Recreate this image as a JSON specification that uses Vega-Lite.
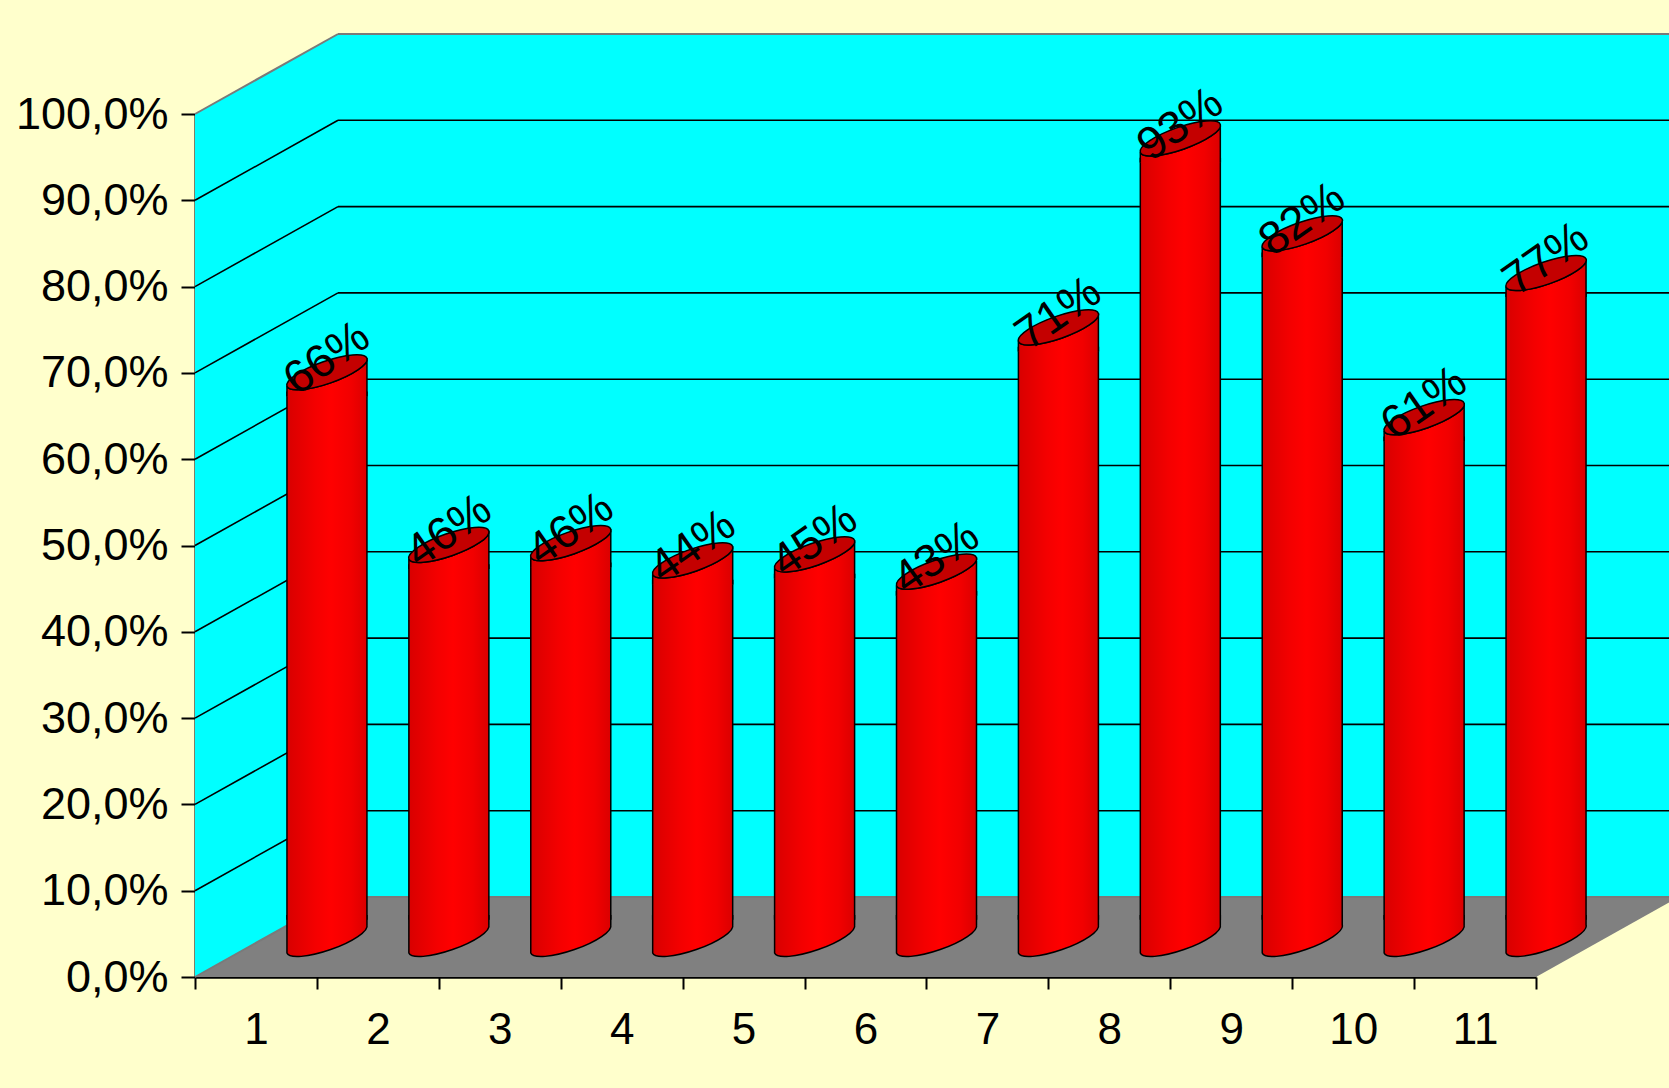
{
  "$schema": "https://vega.github.io/schema/vega-lite/v6.json",
  "width": 1341,
  "height": 863,
  "autosize": {"type": "none"},
  "padding": {"left": 195, "top": 114, "right": 133, "bottom": 111},
  "background": "#FFFFCC",
  "config": {"view": {"stroke": null}, "font": "Liberation Sans"},
  "datasets": {
    "bars": [
      {"group": "1", "share": 0.659},
      {"group": "2", "share": 0.459},
      {"group": "3", "share": 0.461},
      {"group": "4", "share": 0.441},
      {"group": "5", "share": 0.448},
      {"group": "6", "share": 0.428},
      {"group": "7", "share": 0.711},
      {"group": "8", "share": 0.93},
      {"group": "9", "share": 0.82},
      {"group": "10", "share": 0.607},
      {"group": "11", "share": 0.774}
    ],
    "frame": [
      {"part": "side", "i": 1, "edge": "L", "level": "bottom", "d": 0},
      {"part": "side", "i": 2, "edge": "L", "level": "top", "d": 0},
      {"part": "side", "i": 3, "edge": "L", "level": "top", "d": 1},
      {"part": "side", "i": 4, "edge": "L", "level": "bottom", "d": 1},
      {"part": "back", "i": 1, "edge": "L", "level": "bottom", "d": 1},
      {"part": "back", "i": 2, "edge": "L", "level": "top", "d": 1},
      {"part": "back", "i": 3, "edge": "R", "level": "top", "d": 1},
      {"part": "back", "i": 4, "edge": "R", "level": "bottom", "d": 1},
      {"part": "floor", "i": 1, "edge": "L", "level": "bottom", "d": 0},
      {"part": "floor", "i": 2, "edge": "R", "level": "bottom", "d": 0},
      {"part": "floor", "i": 3, "edge": "R", "level": "bottom", "d": 1},
      {"part": "floor", "i": 4, "edge": "L", "level": "bottom", "d": 1}
    ],
    "grid": [
      {"v": 0.1}, {"v": 0.2}, {"v": 0.3}, {"v": 0.4}, {"v": 0.5},
      {"v": 0.6}, {"v": 0.7}, {"v": 0.8}, {"v": 0.9}
    ],
    "edges": [{"v": 0}, {"v": 1}]
  },
  "resolve": {
    "scale": {"x": "independent", "y": "independent"},
    "axis": {"x": "independent", "y": "independent"}
  },
  "layer": [
    {
      "data": {"name": "frame"},
      "transform": [{"filter": "datum.part === 'side' || datum.part === 'back'"}],
      "mark": {"type": "line", "fill": "#00FFFF", "strokeWidth": 0},
      "encoding": {
        "x": {"field": "edge", "type": "nominal", "scale": {"type": "point", "domain": ["L", "R"], "padding": 0}, "axis": null},
        "y": {"field": "level", "type": "nominal", "scale": {"type": "point", "domain": ["top", "bottom"], "padding": 0}, "axis": null},
        "xOffset": {"field": "d", "type": "quantitative", "scale": {"domain": [0, 1], "range": [0, 143], "nice": false, "zero": false}},
        "yOffset": {"field": "d", "type": "quantitative", "scale": {"domain": [0, 1], "range": [0, -80], "nice": false, "zero": false}},
        "detail": {"field": "part"},
        "order": {"field": "i"}
      }
    },
    {
      "data": {"name": "frame"},
      "transform": [{"filter": "datum.part === 'floor'"}],
      "mark": {"type": "line", "fill": "#808080", "strokeWidth": 0},
      "encoding": {
        "x": {"field": "edge", "type": "nominal", "scale": {"type": "point", "domain": ["L", "R"], "padding": 0}, "axis": null},
        "y": {"field": "level", "type": "nominal", "scale": {"type": "point", "domain": ["top", "bottom"], "padding": 0}, "axis": null},
        "xOffset": {"field": "d", "type": "quantitative", "scale": {"domain": [0, 1], "range": [0, 143], "nice": false, "zero": false}},
        "yOffset": {"field": "d", "type": "quantitative", "scale": {"domain": [0, 1], "range": [0, -80], "nice": false, "zero": false}},
        "order": {"field": "i"}
      }
    },
    {
      "data": {"name": "grid"},
      "mark": {"type": "rule", "color": "black", "strokeWidth": 1.6, "xOffset": 143, "x2Offset": 143, "yOffset": -80},
      "encoding": {
        "x": {"datum": 0.5, "type": "quantitative", "scale": {"domain": [0.5, 11.5], "nice": false, "zero": false}, "axis": null},
        "x2": {"datum": 12.5},
        "y": {"field": "v", "type": "quantitative", "scale": {"domain": [0, 1], "nice": false}, "axis": null}
      }
    },
    {
      "data": {"name": "grid"},
      "mark": {"type": "rule", "color": "black", "strokeWidth": 1.6, "x2Offset": 143, "y2Offset": -80},
      "encoding": {
        "x": {"datum": 0.5, "type": "quantitative", "scale": {"domain": [0.5, 11.5], "nice": false, "zero": false}, "axis": null},
        "x2": {"datum": 0.5},
        "y": {"field": "v", "type": "quantitative", "scale": {"domain": [0, 1], "nice": false}, "axis": null},
        "y2": {"field": "v"}
      }
    },
    {
      "data": {"name": "edges"},
      "mark": {"type": "rule", "color": "#7A7A7A", "strokeWidth": 2, "xOffset": 143, "x2Offset": 143, "yOffset": -80},
      "encoding": {
        "x": {"datum": 0.5, "type": "quantitative", "scale": {"domain": [0.5, 11.5], "nice": false, "zero": false}, "axis": null},
        "x2": {"datum": 12.5},
        "y": {"field": "v", "type": "quantitative", "scale": {"domain": [0, 1], "nice": false}, "axis": null}
      }
    },
    {
      "data": {"name": "edges"},
      "mark": {"type": "rule", "color": "#7A7A7A", "strokeWidth": 2, "x2Offset": 143, "y2Offset": -80},
      "encoding": {
        "x": {"datum": 0.5, "type": "quantitative", "scale": {"domain": [0.5, 11.5], "nice": false, "zero": false}, "axis": null},
        "x2": {"datum": 0.5},
        "y": {"field": "v", "type": "quantitative", "scale": {"domain": [0, 1], "nice": false}, "axis": null},
        "y2": {"field": "v"}
      }
    },
    {
      "mark": {"type": "rule", "color": "#7A7A7A", "strokeWidth": 2, "xOffset": 143, "yOffset": -80, "y2Offset": -80},
      "encoding": {
        "x": {"datum": 0.5, "type": "quantitative", "scale": {"domain": [0.5, 11.5], "nice": false, "zero": false}, "axis": null},
        "y": {"datum": 0, "type": "quantitative", "scale": {"domain": [0, 1], "nice": false}, "axis": null},
        "y2": {"datum": 1}
      }
    },
    {
      "mark": {"type": "rule", "color": "black", "strokeWidth": 2, "x2Offset": 143, "y2Offset": -80},
      "encoding": {
        "x": {"datum": 11.5, "type": "quantitative", "scale": {"domain": [0.5, 11.5], "nice": false, "zero": false}, "axis": null},
        "x2": {"datum": 11.5},
        "y": {"datum": 0, "type": "quantitative", "scale": {"domain": [0, 1], "nice": false}, "axis": null},
        "y2": {"datum": 0}
      }
    },
    {
      "data": {"name": "bars"},
      "mark": {
        "type": "bar", "width": 80, "xOffset": 71, "yOffset": -16, "y2Offset": -58,
        "stroke": "black", "strokeWidth": 1.5,
        "fill": {"gradient": "linear", "x1": 0, "y1": 0, "x2": 1, "y2": 0,
          "stops": [
            {"offset": 0, "color": "#D80000"},
            {"offset": 0.35, "color": "#F40000"},
            {"offset": 0.55, "color": "#FF0000"},
            {"offset": 0.8, "color": "#F20000"},
            {"offset": 1, "color": "#DA0000"}
          ]}
      },
      "encoding": {
        "x": {
          "field": "group", "type": "ordinal", "sort": null,
          "scale": {"type": "band", "paddingInner": 0, "paddingOuter": 0},
          "axis": {
            "title": null, "tickBand": "extent", "labelAngle": 0, "grid": false,
            "domainColor": "black", "domainWidth": 2.5, "tickColor": "black", "tickWidth": 2, "tickSize": 12,
            "labelFontSize": 44, "labelColor": "black", "labelPadding": 19, "labelFont": "Liberation Sans"
          }
        },
        "y": {
          "field": "share", "type": "quantitative",
          "scale": {"domain": [0, 1], "nice": false},
          "axis": {
            "orient": "left", "title": null, "grid": false,
            "values": [0, 0.1, 0.2, 0.3, 0.4, 0.5, 0.6, 0.7, 0.8, 0.9, 1],
            "labelExpr": "replace(format(datum.value, '.1%'), '.', ',')",
            "domainColor": "black", "domainWidth": 2, "tickColor": "black", "tickWidth": 2, "tickSize": 14,
            "labelFontSize": 45, "labelColor": "black", "labelPadding": 13, "labelFont": "Liberation Sans"
          }
        },
        "y2": {"datum": 0}
      }
    },
    {
      "data": {"name": "bars"},
      "mark": {
        "type": "point", "filled": true, "opacity": 1, "size": 6400, "xOffset": 71, "yOffset": -38,
        "shape": "M-1,-0.6 L-1,0.35 C-0.9489,0.496 -0.4598,0.4576 0.0925,0.2643 C0.6448,0.071 1.0511,-0.204 1,-0.35 L1,-0.6",
        "stroke": "black", "strokeWidth": 1.5,
        "fill": {"gradient": "linear", "x1": 0, "y1": 0, "x2": 1, "y2": 0,
          "stops": [
            {"offset": 0, "color": "#D80000"},
            {"offset": 0.35, "color": "#F40000"},
            {"offset": 0.55, "color": "#FF0000"},
            {"offset": 0.8, "color": "#F20000"},
            {"offset": 1, "color": "#DA0000"}
          ]}
      },
      "encoding": {
        "x": {"field": "group", "type": "ordinal", "sort": null, "scale": {"type": "band", "paddingInner": 0, "paddingOuter": 0}, "axis": null},
        "y": {"datum": 0, "type": "quantitative", "scale": {"domain": [0, 1], "nice": false}, "axis": null}
      }
    },
    {
      "data": {"name": "bars"},
      "mark": {
        "type": "point", "filled": true, "opacity": 1, "size": 6400, "xOffset": 71, "yOffset": -36,
        "shape": "M-1,0.6 L-1,0.35 C-0.9489,0.496 -0.4598,0.4576 0.0925,0.2643 C0.6448,0.071 1.0511,-0.204 1,-0.35 L1,0.6",
        "stroke": "black", "strokeWidth": 1.5,
        "fill": {"gradient": "linear", "x1": 0, "y1": 0, "x2": 1, "y2": 0,
          "stops": [
            {"offset": 0, "color": "#D80000"},
            {"offset": 0.35, "color": "#F40000"},
            {"offset": 0.55, "color": "#FF0000"},
            {"offset": 0.8, "color": "#F20000"},
            {"offset": 1, "color": "#DA0000"}
          ]}
      },
      "encoding": {
        "x": {"field": "group", "type": "ordinal", "sort": null, "scale": {"type": "band", "paddingInner": 0, "paddingOuter": 0}, "axis": null},
        "y": {"field": "share", "type": "quantitative", "scale": {"domain": [0, 1], "nice": false}, "axis": null}
      }
    },
    {
      "data": {"name": "bars"},
      "mark": {
        "type": "point", "filled": true, "opacity": 1, "size": 6400, "xOffset": 71, "yOffset": -36,
        "shape": "M1,-0.35 C1.0511,-0.204 0.6448,0.071 0.0925,0.2643 C-0.4598,0.4576 -0.9489,0.496 -1,0.35 C-1.0511,0.204 -0.6448,-0.071 -0.0925,-0.2643 C0.4598,-0.4576 0.9489,-0.496 1,-0.35 Z",
        "stroke": "black", "strokeWidth": 1.5, "fill": "#C40000"
      },
      "encoding": {
        "x": {"field": "group", "type": "ordinal", "sort": null, "scale": {"type": "band", "paddingInner": 0, "paddingOuter": 0}, "axis": null},
        "y": {"field": "share", "type": "quantitative", "scale": {"domain": [0, 1], "nice": false}, "axis": null}
      }
    },
    {
      "data": {"name": "bars"},
      "mark": {
        "type": "text", "xOffset": 71, "yOffset": -50, "angle": 325,
        "align": "center", "baseline": "middle", "fontSize": 46, "font": "Liberation Sans", "color": "black"
      },
      "encoding": {
        "x": {"field": "group", "type": "ordinal", "sort": null, "scale": {"type": "band", "paddingInner": 0, "paddingOuter": 0}, "axis": null},
        "y": {"field": "share", "type": "quantitative", "scale": {"domain": [0, 1], "nice": false}, "axis": null},
        "text": {"field": "share", "type": "quantitative", "format": ".0%"}
      }
    }
  ]
}
